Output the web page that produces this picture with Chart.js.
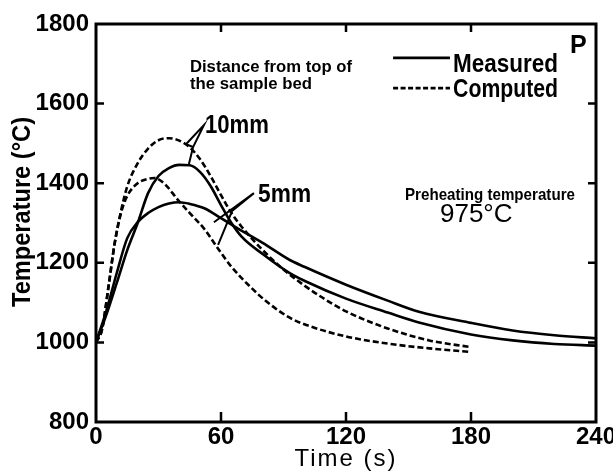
<!DOCTYPE html>
<html>
<head>
<meta charset="utf-8">
<script src="https://cdn.jsdelivr.net/npm/chart.js@4.4.1/dist/chart.umd.min.js"></script>
<style>
  body { margin: 0; background: #fff; }
  #wrap { width: 613px; height: 474px; position: relative; }
</style>
</head>
<body>
<div id="wrap"><canvas id="line-chart"></canvas></div>
<script>
// values (time in s, temperature in degC)
var meas10Time = [0, 5, 10, 15, 20, 25, 30, 35, 40, 45, 50, 55, 60, 65, 70, 80, 93, 100, 120, 140, 155, 180, 200, 220, 240];
var meas10Temp = [1000, 1070, 1150, 1232, 1300, 1375, 1418, 1438, 1446, 1445, 1428, 1393, 1345, 1300, 1265, 1222, 1174, 1155, 1110, 1075, 1050, 1020, 1005, 996, 992];

var meas5Time = [0, 5, 10, 15, 20, 25, 30, 35, 40, 45, 52, 60, 70, 80, 93, 100, 120, 140, 155, 180, 200, 220, 240];
var meas5Temp = [1000, 1080, 1175, 1262, 1302, 1325, 1340, 1349, 1352, 1348, 1337, 1312, 1280, 1250, 1207, 1190, 1145, 1105, 1077, 1049, 1030, 1018, 1010];

var comp10Time = [0, 3, 6, 9, 12, 15, 20, 25, 30, 35, 40, 45, 50, 55, 60, 65, 70, 80, 90, 100, 110, 120, 140, 160, 180];
var comp10Temp = [1000, 1035, 1140, 1250, 1330, 1392, 1450, 1487, 1508, 1513, 1507, 1490, 1460, 1418, 1370, 1325, 1290, 1232, 1183, 1143, 1108, 1078, 1035, 1005, 988];

var comp5Time = [0, 3, 6, 9, 12, 15, 20, 25, 28, 33, 39, 45, 52, 58, 65, 74, 82, 93, 103, 120, 140, 160, 180];
var comp5Temp = [1000, 1035, 1140, 1250, 1325, 1368, 1400, 1411, 1413, 1398, 1360, 1325, 1285, 1240, 1190, 1140, 1102, 1062, 1040, 1015, 997, 985, 976];

var xTicks = [0, 60, 120, 180, 240];
var yTicks = [800, 1000, 1200, 1400, 1600, 1800];

var TICK_FONT = "'Liberation Sans', Arial, sans-serif";
var TEXT_FONT = "'Liberation Sans', Arial, sans-serif";

function toPoints(times, temps) {
	var pts = [];
	for (var i = 0; i < times.length; i++) {
		pts.push({ x: times[i], y: temps[i] });
	}
	return pts;
}

function curve(times, temps, dashed) {
	return {
		data: toPoints(times, temps),
		borderColor: '#000',
		borderWidth: 2.6,
		borderDash: dashed ? [6, 3] : [],
		pointRadius: 0,
		fill: false,
		cubicInterpolationMode: 'monotone'
	};
}

// frame, inward ticks, labels and leader lines
var figurePlugin = {
	id: 'figure',
	afterDatasetsDraw: function(chart) {
		var ctx = chart.ctx;
		var a = chart.chartArea;
		var xs = chart.scales.x;
		var ys = chart.scales.y;
		function px(t) { return xs.getPixelForValue(t); }
		function py(v) { return ys.getPixelForValue(v); }

		ctx.save();
		ctx.strokeStyle = '#000';
		ctx.fillStyle = '#000';
		ctx.setLineDash([]);
		ctx.lineWidth = 3;
		ctx.strokeRect(a.left, a.top, a.right - a.left, a.bottom - a.top);

		ctx.lineWidth = 2.5;
		ctx.beginPath();
		for (var i = 1; i < yTicks.length - 1; i++) {
			var y = py(yTicks[i]);
			ctx.moveTo(a.left, y); ctx.lineTo(a.left + 8, y);
			ctx.moveTo(a.right, y); ctx.lineTo(a.right - 8, y);
		}
		for (var j = 1; j < xTicks.length - 1; j++) {
			var x = px(xTicks[j]);
			ctx.moveTo(x, a.bottom); ctx.lineTo(x, a.bottom - 10);
			ctx.moveTo(x, a.top); ctx.lineTo(x, a.top + 8);
		}
		ctx.stroke();

		// leader lines for 10mm and 5mm
		ctx.lineWidth = 2;
		ctx.beginPath();
		ctx.moveTo(px(43.2), py(1498));
		ctx.lineTo(px(51.8), py(1546));
		ctx.lineTo(px(46.6), py(1491));
		ctx.lineTo(px(44.6), py(1448));
		ctx.moveTo(px(43.2), py(1498));
		ctx.lineTo(px(46.6), py(1491));

		ctx.moveTo(px(56.6), py(1302));
		ctx.lineTo(px(75.8), py(1375));
		ctx.lineTo(px(65.3), py(1330));
		ctx.lineTo(px(58.6), py(1245));
		ctx.stroke();

		// legend
		ctx.lineWidth = 2.6;
		ctx.beginPath();
		ctx.moveTo(px(142.6), py(1715)); ctx.lineTo(px(169.9), py(1715));
		ctx.stroke();
		ctx.setLineDash([5, 2.5]);
		ctx.beginPath();
		ctx.moveTo(px(142.6), py(1639)); ctx.lineTo(px(169.9), py(1639));
		ctx.stroke();
		ctx.setLineDash([]);

		ctx.textAlign = 'left';
		ctx.textBaseline = 'alphabetic';
		ctx.font = 'bold 25px ' + TEXT_FONT;
		ctx.fillText('Measured', px(171.4), py(1679), 105);
		ctx.fillText('Computed', px(171.4), py(1617), 105);
		ctx.fillText('P', px(227.5), py(1727));

		ctx.font = 'bold 17px ' + TEXT_FONT;
		ctx.fillText('Distance from top of', px(45.1), py(1679), 162);
		ctx.fillText('the sample bed', px(45.1), py(1637), 122);
		ctx.font = 'bold 17px ' + TEXT_FONT;
		ctx.fillText('Preheating temperature', px(148.3), py(1358), 170);
		ctx.font = '26px ' + TEXT_FONT;
		ctx.fillText('975°C', px(165.1), py(1302), 77);

		ctx.font = 'bold 25px ' + TEXT_FONT;
		ctx.fillText('10mm', px(52.3), py(1526), 64);
		ctx.fillText('5mm', px(77.8), py(1353), 53);

		// axis titles
		ctx.font = 'bold 25px ' + TEXT_FONT;
		ctx.textAlign = 'center';
		ctx.save();
		ctx.translate(a.left - 66, (a.top + a.bottom) / 2 - 11);
		ctx.rotate(-Math.PI / 2);
		ctx.fillText('Temperature (°C)', 0, 0, 190);
		ctx.restore();

		ctx.font = '24px ' + TEXT_FONT;
		ctx.letterSpacing = '2px';
		ctx.fillText('Time (s)', (a.left + a.right) / 2, a.bottom + 44);
		ctx.letterSpacing = '0px';
		ctx.restore();
	}
};

function plainLabel(value) {
	return String(value);
}

var lineChart = new Chart(document.getElementById('line-chart'), {
	type: 'line',
	data: {
		datasets: [
			curve(meas10Time, meas10Temp, false),
			curve(meas5Time, meas5Temp, false),
			curve(comp10Time, comp10Temp, true),
			curve(comp5Time, comp5Temp, true)
		]
	},
	options: {
		responsive: true,
		maintainAspectRatio: false,
		animation: false,
		events: [],
		layout: { padding: { top: 24, right: 17, left: 0, bottom: 0 } },
		plugins: {
			legend: { display: false },
			title: { display: false },
			tooltip: { enabled: false }
		},
		scales: {
			x: {
				type: 'linear',
				min: 0,
				max: 240,
				grid: { display: false, drawTicks: false },
				border: { display: false },
				afterBuildTicks: function(scale) {
					scale.ticks = xTicks.map(function(v) { return { value: v }; });
				},
				afterFit: function(scale) {
					scale.height = 52;
					scale.paddingLeft = 0;
					scale.paddingRight = 0;
				},
				ticks: {
					color: '#000',
					padding: 3,
					maxRotation: 0,
					callback: plainLabel,
					font: { family: TICK_FONT, size: 24, weight: 'bold', lineHeight: 1 }
				}
			},
			y: {
				min: 800,
				max: 1800,
				grid: { display: false, drawTicks: false },
				border: { display: false },
				afterBuildTicks: function(scale) {
					scale.ticks = yTicks.map(function(v) { return { value: v }; });
				},
				afterFit: function(scale) {
					scale.width = 96;
				},
				ticks: {
					color: '#000',
					padding: 7,
					callback: plainLabel,
					font: { family: TICK_FONT, size: 24, weight: 'bold', lineHeight: 1 }
				}
			}
		}
	},
	plugins: [figurePlugin]
});
</script>
</body>
</html>
